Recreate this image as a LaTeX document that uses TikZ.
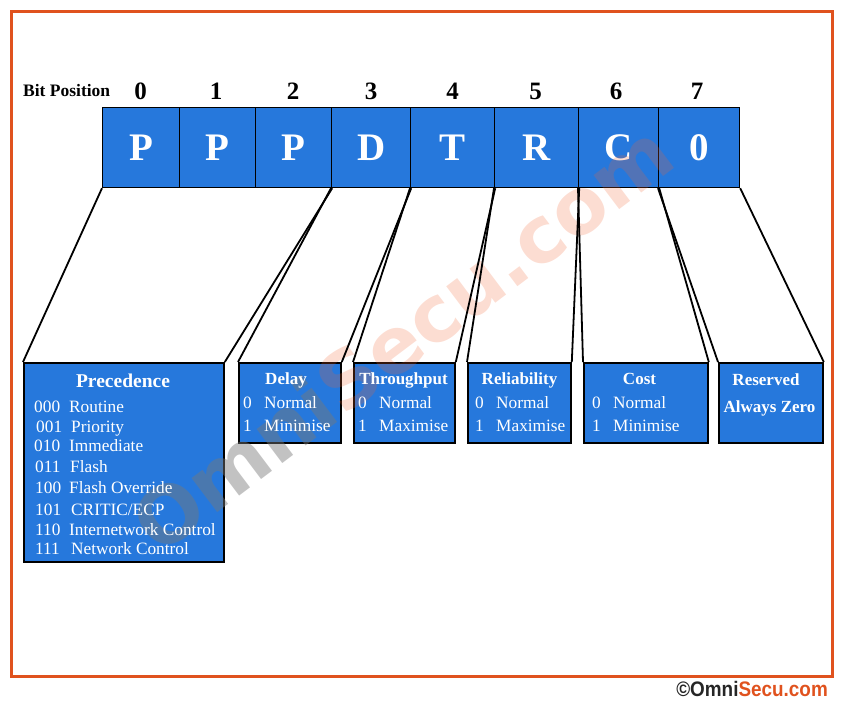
\documentclass[tikz,border=0pt]{standalone}
\usepackage{fontspec}
\setmainfont{Liberation Serif}
\newfontfamily\wmfont{DejaVu Sans}
\newfontfamily\cpfont{Liberation Sans}
\definecolor{boxblue}{RGB}{38,120,220}
\definecolor{frameor}{RGB}{224,82,30}
\definecolor{wmgray}{RGB}{120,120,120}
\definecolor{wmorange}{RGB}{240,100,50}
\begin{document}
\begin{tikzpicture}[x=1pt,y=-1pt,
  frame/.style={draw=frameor, line width=3pt},
  bitbox/.style={draw=black, line width=1.2pt, fill=boxblue, anchor=north west, inner sep=0pt,
    minimum height=80pt, text=white, font=\fontsize{39}{39}\selectfont\bfseries},
  bitnum/.style={anchor=base, inner sep=0pt, font=\fontsize{25}{25}\selectfont\bfseries},
  infobox/.style={draw=black, line width=1.8pt, fill=boxblue, anchor=north west, inner sep=0pt},
  conn/.style={line width=1.8pt, draw=black},
  ttl/.style={anchor=base, inner sep=0pt, text=white, font=\fontsize{17}{17}\selectfont\bfseries},
  bigttl/.style={anchor=base, inner sep=0pt, text=white, font=\fontsize{19.5}{19.5}\selectfont\bfseries},
  row/.style={anchor=base west, inner sep=0pt, text=white, font=\fontsize{17.3}{17.3}\selectfont},
  wm/.style={rotate=37, inner sep=0pt, font=\wmfont\bfseries\fontsize{78}{78}\selectfont}
]
\useasboundingbox (0,0) rectangle (845,704);
\draw[frame] (11,11) rectangle (832,676);

% bit boxes
\node[bitbox, minimum width=77pt] (b0) at (102,107) {P};
\node[bitbox, minimum width=76pt] (b1) at (179,107) {P};
\node[bitbox, minimum width=76pt] (b2) at (255,107) {P};
\node[bitbox, minimum width=79pt] (b3) at (331,107) {D};
\node[bitbox, minimum width=84pt] (b4) at (410,107) {T};
\node[bitbox, minimum width=84pt] (b5) at (494,107) {R};
\node[bitbox, minimum width=80pt] (b6) at (578,107) {C};
\node[bitbox, minimum width=81pt] (b7) at (658,107) {0};

% bit numbers
\node[bitnum] (n0) at (140.5,99.5) {0};
\node[bitnum] (n1) at (216,99.5) {1};
\node[bitnum] (n2) at (293,99.5) {2};
\node[bitnum] (n3) at (371,99.5) {3};
\node[bitnum] (n4) at (452.5,99.5) {4};
\node[bitnum] (n5) at (535.5,99.5) {5};
\node[bitnum] (n6) at (616,99.5) {6};
\node[bitnum] (n7) at (697,99.5) {7};
\node[anchor=base west, inner sep=0pt, font=\fontsize{17.5}{17.5}\selectfont\bfseries] (bitpos) at (23,96) {Bit Position};

% info boxes
\node[infobox, minimum width=200pt, minimum height=199pt] (prec) at (23,362) {};
\node[infobox, minimum width=102pt, minimum height=80pt] (delay) at (238,362) {};
\node[infobox, minimum width=101pt, minimum height=80pt] (thr) at (353,362) {};
\node[infobox, minimum width=103pt, minimum height=80pt] (rel) at (467,362) {};
\node[infobox, minimum width=124pt, minimum height=80pt] (cost) at (583,362) {};
\node[infobox, minimum width=104pt, minimum height=80pt] (res) at (718,362) {};

% watermark (behind lines and texts)
\coordinate (wmj) at (343,418);
\node[wm, anchor=base east, text=wmgray, text opacity=0.45] (wm1) at (wmj) {Omni};
\node[wm, anchor=base west, text=wmorange, text opacity=0.22] (wm2) at (wmj) {Secu.com};

% connectors
\draw[conn] (b0.south west) -- (prec.north west);
\draw[conn] (b2.south east) -- (prec.north east);
\draw[conn] (b3.south west) -- (delay.north west);
\draw[conn] (b3.south east) -- (delay.north east);
\draw[conn] (b4.south west) -- (thr.north west);
\draw[conn] (b4.south east) -- (thr.north east);
\draw[conn] (b5.south west) -- (rel.north west);
\draw[conn] (b5.south east) -- (rel.north east);
\draw[conn] (b6.south west) -- (cost.north west);
\draw[conn] (b6.south east) -- (cost.north east);
\draw[conn] (b7.south west) -- (res.north west);
\draw[conn] (b7.south east) -- (res.north east);

% precedence text
\node[bigttl] (pt) at (123,387.5) {Precedence};
\node[row] (pc0) at (34,412.5) {000};  \node[row] (pn0) at (69,412.5) {Routine};
\node[row] (pc1) at (36,432.5) {001};  \node[row] (pn1) at (71,432.5) {Priority};
\node[row] (pc2) at (34,451.5) {010};  \node[row] (pn2) at (69,451.5) {Immediate};
\node[row] (pc3) at (35,472.5) {011};  \node[row] (pn3) at (70,472.5) {Flash};
\node[row] (pc4) at (35,493.5) {100};  \node[row] (pn4) at (69,493.5) {Flash Override};
\node[row] (pc5) at (35,515.5) {101};  \node[row] (pn5) at (71,515.5) {CRITIC/ECP};
\node[row] (pc6) at (35,535.5) {110};  \node[row] (pn6) at (69,535.5) {Internetwork Control};
\node[row] (pc7) at (35,554.5) {111};  \node[row] (pn7) at (71,554.5) {Network Control};

% delay
\node[ttl] (dt) at (286,384.6) {Delay};
\node[row] (d0) at (243,408.6) {0}; \node[row] (d0n) at (264,408.6) {Normal};
\node[row] (d1) at (243,431.6) {1}; \node[row] (d1n) at (264,431.6) {Minimise};
% throughput
\node[ttl] (tt) at (403.5,384.6) {Throughput};
\node[row] (t0) at (358,408.6) {0}; \node[row] (t0n) at (379,408.6) {Normal};
\node[row] (t1) at (358,431.6) {1}; \node[row] (t1n) at (379,431.6) {Maximise};
% reliability
\node[ttl] (rt) at (519.5,384.6) {Reliability};
\node[row] (r0) at (475,408.6) {0}; \node[row] (r0n) at (496,408.6) {Normal};
\node[row] (r1) at (475,431.6) {1}; \node[row] (r1n) at (496,431.6) {Maximise};
% cost
\node[ttl] (ct) at (639.5,384.6) {Cost};
\node[row] (c0) at (592,408.6) {0}; \node[row] (c0n) at (613,408.6) {Normal};
\node[row] (c1) at (592,431.6) {1}; \node[row] (c1n) at (613,431.6) {Minimise};
% reserved
\node[ttl] (rs1) at (766,385.6) {Reserved};
\node[ttl] (rs2) at (769.5,412.6) {Always Zero};

% copyright
\node[anchor=base east, inner sep=0pt, font=\cpfont\bfseries\fontsize{21}{21}\selectfont] (copy) at (828,696)
  {\scalebox{0.9}[1]{\textcolor{black!85}{©Omni}\textcolor{frameor}{Secu.com}}};
\end{tikzpicture}
\end{document}
